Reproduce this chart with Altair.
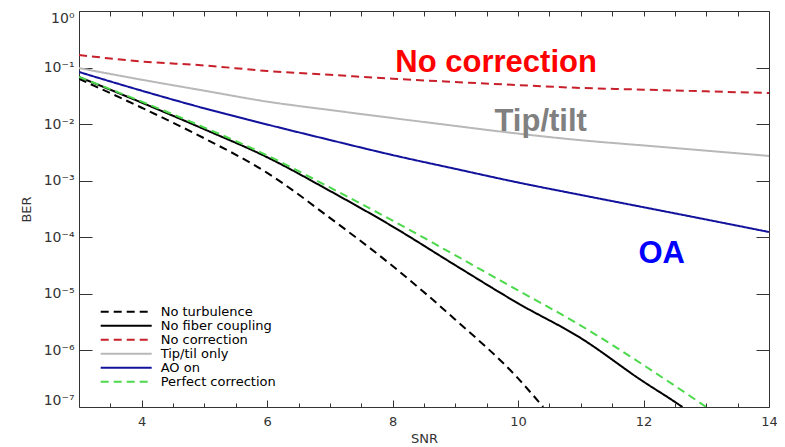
import altair as alt
import pandas as pd

# ---------------- data ----------------
series_names = ["No turbulence", "No fiber coupling", "No correction",
                "Tip/til only", "AO on", "Perfect correction"]
series_colors = ["#000000", "#000000", "#c8202a", "#b8b8b8", "#12129c", "#4cd94c"]
series_dashes = [[8, 5], [1, 0], [8, 5], [1, 0], [1, 0], [8, 5]]
series_widths = [2.0, 2.0, 1.8, 1.8, 1.8, 2.2]

snr_no_turbulence = [3, 4, 5, 6, 7, 8, 9, 10, 10.4]
ber_no_turbulence = [0.063, 0.0195, 0.0056, 0.00138, 0.00022, 3.1e-5, 3.5e-6, 3.2e-7, 1e-7]

snr_no_fiber = [3, 4, 5, 6, 7, 8, 9, 10, 11, 12, 12.5, 12.62]
ber_no_fiber = [0.068, 0.024, 0.0081, 0.0026, 0.00066, 0.000155, 3.2e-5, 6.8e-6,
                1.65e-6, 2.8e-7, 1.23e-7, 1e-7]

snr_no_correction = [3, 4, 5, 6, 7, 8, 9, 10, 11, 12, 13, 14]
ber_no_correction = [0.167, 0.128, 0.109, 0.087, 0.0745, 0.0636, 0.0556, 0.049,
                     0.0436, 0.0407, 0.038, 0.0355]

snr_tip_tilt = [3, 4, 5, 6, 7, 8, 9, 10, 11, 12, 13, 14]
ber_tip_tilt = [0.098, 0.061, 0.039, 0.025, 0.0178, 0.0128, 0.0093, 0.0068,
                0.0052, 0.0042, 0.0034, 0.00274]

snr_ao_on = [3, 4, 5, 6, 7, 8, 9, 10, 11, 12, 13, 14]
ber_ao_on = [0.0835, 0.039, 0.019, 0.00985, 0.00525, 0.00284, 0.00162, 0.00093,
             0.00056, 0.00034, 0.000206, 0.000124]

snr_perfect = [3, 4, 5, 6, 7, 8, 9, 10, 11, 12, 13]
ber_perfect = [0.068, 0.025, 0.0087, 0.0028, 0.00076, 0.000197, 4.8e-5, 1.15e-5,
               2.75e-6, 5.5e-7, 1e-7]

annot_texts = ["No correction", "Tip/tilt", "OA"]
annot_snr = [9.65, 10.36, 12.29]
annot_ber = [0.0835, 0.00756, 3.5e-5]
annot_colors = ["#ff0000", "#808080", "#0000ff"]

x_label_values = [4, 6, 8, 10, 12, 14]
x_major_ticks = [4, 6, 8, 10, 12]
x_minor_ticks = [3.5, 4.5, 5, 5.5, 6.5, 7, 7.5, 8.5, 9, 9.5, 10.5, 11, 11.5,
                 12.5, 13, 13.5]
x_top_ticks = [3.5, 4, 4.5, 5, 5.5, 6, 6.5, 7, 7.5, 8, 8.5, 9, 9.5, 10, 10.5,
               11, 11.5, 12, 12.5, 13, 13.5]
y_tick_values = [1, 1e-1, 1e-2, 1e-3, 1e-4, 1e-5, 1e-6, 1e-7]

# ---------------- table ----------------
all_snr = [snr_no_turbulence, snr_no_fiber, snr_no_correction, snr_tip_tilt,
           snr_ao_on, snr_perfect]
all_ber = [ber_no_turbulence, ber_no_fiber, ber_no_correction, ber_tip_tilt,
           ber_ao_on, ber_perfect]
rows = []
for name, xs, ys in zip(series_names, all_snr, all_ber):
    for xv, yv in zip(xs, ys):
        rows.append({"series": name, "snr": xv, "ber": yv})
df = pd.DataFrame(rows)

W, H = 690, 396
AX = "#333333"

x_scale = alt.Scale(domain=[3, 14], nice=False, zero=False)
y_scale = alt.Scale(type="log", domain=[1e-7, 1], nice=False)

sup_expr = ("'10' + ['\u2070','\u207b\u00b9','\u207b\u00b2','\u207b\u00b3',"
            "'\u207b\u2074','\u207b\u2075','\u207b\u2076','\u207b\u2077']"
            "[round(-log(datum.value)/LN10)]")

legend = alt.Legend(title=None, orient="none", legendX=20.7, legendY=293.7,
                    symbolType="stroke", symbolSize=2601, symbolStrokeWidth=2,
                    labelFont="DejaVu Sans", labelFontSize=13, labelColor="black",
                    labelOffset=8, clipHeight=14, rowPadding=0, padding=0)

lines = alt.Chart(df).mark_line(clip=True, interpolate="monotone").encode(
    x=alt.X("snr:Q", scale=x_scale,
            axis=alt.Axis(orient="bottom", values=x_label_values, title="SNR",
                          grid=False, ticks=False, tickSize=0, domain=False,
                          labelFlush=False,
                          labelFont="DejaVu Sans", labelFontSize=13,
                          labelColor=AX, labelPadding=8,
                          titleFont="DejaVu Sans", titleFontSize=13,
                          titleFontWeight="normal", titleColor=AX,
                          titlePadding=4)),
    y=alt.Y("ber:Q", scale=y_scale,
            axis=alt.Axis(orient="left", values=y_tick_values, labelExpr=sup_expr,
                          title="BER", grid=False, ticks=False, tickSize=0,
                          domain=False, labelFlush=True,
                          labelFont="DejaVu Sans", labelFontSize=14,
                          labelColor=AX, labelPadding=5,
                          titleFont="DejaVu Sans", titleFontSize=13,
                          titleFontWeight="normal", titleColor=AX,
                          titlePadding=10)),
    color=alt.Color("series:N",
                    scale=alt.Scale(domain=series_names, range=series_colors),
                    legend=legend),
    strokeDash=alt.StrokeDash("series:N",
                              scale=alt.Scale(domain=series_names, range=series_dashes),
                              legend=legend),
    strokeWidth=alt.StrokeWidth("series:N",
                                scale=alt.Scale(domain=series_names, range=series_widths),
                                legend=None),
)

tc = dict(labels=False, domain=False, grid=False, tickColor=AX, tickWidth=1,
          title=None)


def tick_layer(x_axis, y_axis):
    return alt.Chart(df).mark_point(opacity=0).encode(
        x=alt.X("snr:Q", scale=x_scale, axis=x_axis),
        y=alt.Y("ber:Q", scale=y_scale, axis=y_axis),
    )


ticks_a = tick_layer(
    alt.Axis(orient="top", offset=-H, values=x_minor_ticks, tickSize=4, **tc),
    alt.Axis(orient="right", offset=-W, values=y_tick_values, tickSize=13, **tc))
ticks_b = tick_layer(
    alt.Axis(orient="top", offset=-H, values=x_major_ticks, tickSize=7, **tc),
    alt.Axis(orient="left", offset=-W, values=y_tick_values, tickSize=13, **tc))
ticks_c = tick_layer(
    alt.Axis(orient="bottom", offset=-H, values=x_top_ticks, tickSize=5, **tc),
    None)

texts = []
for t, xv, yv, c in zip(annot_texts, annot_snr, annot_ber, annot_colors):
    tdf = pd.DataFrame({"label": [t], "snr": [xv], "ber": [yv]})
    texts.append(
        alt.Chart(tdf).mark_text(font="Liberation Sans", fontWeight="bold",
                                 fontSize=31, color=c, align="center",
                                 baseline="alphabetic").encode(
            x=alt.X("snr:Q", scale=x_scale, axis=None),
            y=alt.Y("ber:Q", scale=y_scale, axis=None),
            text="label:N"))

chart = alt.layer(lines, ticks_a, ticks_b, ticks_c, *texts).resolve_axis(
    x="independent", y="independent"
).properties(
    width=W, height=H,
    autosize=alt.AutoSizeParams(type="none"),
    padding={"left": 71, "top": 3, "right": 8, "bottom": 40},
    background="white",
).configure_view(stroke=AX, strokeWidth=1)

chart.save("out.html", embed_options={"renderer": "svg", "actions": False})
